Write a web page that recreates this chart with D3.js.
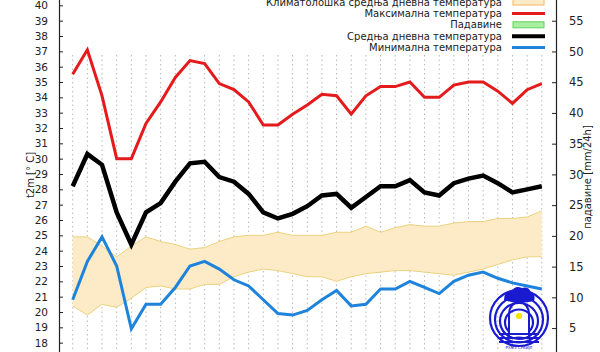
<!DOCTYPE html>
<html>
<head>
<meta charset="utf-8">
<script src="https://cdn.jsdelivr.net/npm/d3@7"></script>
<style>
  body { margin: 0; background: #fff; }
  svg { display: block; font-family: "DejaVu Sans", sans-serif; }
</style>
</head>
<body>
<div id="chart"></div>
<script>
//////////////////////////////////////////////////////////////////////////////
// Data (33 days)

var days = d3.range(1, 34);

var tMax = [35.5, 37.1, 34.1, 30.0, 30.0, 32.3, 33.7, 35.3, 36.4, 36.2, 34.9,
            34.5, 33.7, 32.2, 32.2, 32.9, 33.5, 34.2, 34.1, 32.9, 34.1, 34.7,
            34.7, 35.0, 34.0, 34.0, 34.8, 35.0, 35.0, 34.4, 33.6, 34.5, 34.9];

var tMean = [28.2, 30.3, 29.6, 26.5, 24.4, 26.5, 27.1, 28.5, 29.7, 29.8, 28.8,
             28.5, 27.7, 26.5, 26.1, 26.4, 26.9, 27.6, 27.7, 26.8, 27.5, 28.2,
             28.2, 28.6, 27.8, 27.6, 28.4, 28.7, 28.9, 28.4, 27.8, 28.0, 28.2];

var tMin = [20.8, 23.3, 24.9, 23.0, 18.9, 20.5, 20.5, 21.6, 23.0, 23.3, 22.8,
            22.1, 21.7, 20.8, 19.9, 19.8, 20.1, 20.8, 21.4, 20.4, 20.5, 21.5,
            21.5, 22.0, 21.6, 21.2, 22.0, 22.4, 22.6, 22.2, 21.9, 21.7, 21.5];

// climatological mean daily temperature band
var climHigh = [24.9, 24.9, 24.3, 23.6, 24.3, 24.9, 24.6, 24.4, 24.1, 24.2, 24.6,
                24.9, 25.0, 25.0, 25.2, 25.0, 25.0, 25.0, 25.2, 25.2, 25.6, 25.2,
                25.5, 25.7, 25.6, 25.6, 25.8, 25.9, 25.9, 26.1, 26.1, 26.2, 26.6];
var climLow = [20.4, 19.8, 20.5, 20.3, 20.9, 21.6, 21.7, 21.5, 21.5, 21.8, 21.8,
               22.3, 22.6, 22.8, 22.7, 22.5, 22.3, 22.3, 22.0, 22.3, 22.5, 22.6,
               22.7, 22.7, 22.6, 22.5, 22.4, 22.6, 22.8, 23.1, 23.4, 23.6, 23.6];

var tempTicks = d3.range(18, 41);
var precTicks = [5, 10, 15, 20, 25, 30, 35, 40, 45, 50, 55];

var legendLabels = ["Климатолошка средња дневна температура", "Максимална температура",
                    "Падавине", "Средња дневна температура", "Минимална температура"];

//////////////////////////////////////////////////////////////////////////////
// Scales

var width = 600, height = 352;

var xScale = d3.scaleLinear().domain([1, 33]).range([72.7, 541.8]);
var yTemp = d3.scaleLinear().domain([17, 41]).range([358, -10]);
var yPrec = d3.scaleLinear().domain([0, 60]).range([358.8, -10]);

var svg = d3.select("#chart").append("svg")
    .attr("width", width)
    .attr("height", height);

// dotted vertical grid
svg.append("g")
    .selectAll("line")
    .data(days)
    .enter()
    .append("line")
    .attr("x1", d => xScale(d))
    .attr("x2", d => xScale(d))
    .attr("y1", 55)
    .attr("y2", height)
    .attr("stroke", "#b8b8b8")
    .attr("stroke-width", 1)
    .attr("stroke-dasharray", "1.5,3");

// climatology band
var area = d3.area()
    .x((d, i) => xScale(days[i]))
    .y0((d, i) => yTemp(climLow[i]))
    .y1((d, i) => yTemp(climHigh[i]));

svg.append("path")
    .datum(days)
    .attr("d", area)
    .attr("fill", "#fdebc8");

var edge = arr => d3.line().x((d, i) => xScale(days[i])).y(d => yTemp(d))(arr);

svg.append("path").attr("d", edge(climHigh)).attr("fill", "none")
    .attr("stroke", "#ecd27e").attr("stroke-width", 1);
svg.append("path").attr("d", edge(climLow)).attr("fill", "none")
    .attr("stroke", "#ecd27e").attr("stroke-width", 1);

// temperature lines
function drawLine(values, color, w) {
    svg.append("path")
        .attr("d", edge(values))
        .attr("fill", "none")
        .attr("stroke", color)
        .attr("stroke-width", w)
        .attr("stroke-linejoin", "miter");
}
drawLine(tMax, "#e41a1c", 3);
drawLine(tMean, "#000000", 4.5);
drawLine(tMin, "#1e83db", 3);

//////////////////////////////////////////////////////////////////////////////
// Axes

var leftAxis = svg.append("g")
    .attr("transform", "translate(59,0)")
    .call(d3.axisLeft(yTemp).tickValues(tempTicks).tickSizeInner(-4).tickSizeOuter(0).tickPadding(11));

var rightAxis = svg.append("g")
    .attr("transform", "translate(556,0)")
    .call(d3.axisRight(yPrec).tickValues(precTicks).tickSizeInner(-4).tickSizeOuter(0).tickPadding(13));

[leftAxis, rightAxis].forEach(function(ax) {
    ax.select(".domain").attr("stroke", "#222").attr("stroke-width", 1.2);
    ax.selectAll(".tick line").attr("stroke", "#222");
    ax.selectAll("text").attr("fill", "#222").attr("font-family", "DejaVu Sans");
});
leftAxis.selectAll("text").attr("font-size", 10.5);
rightAxis.selectAll("text").attr("font-size", 11.5);

svg.append("text")
    .attr("transform", "translate(34,175) rotate(-90)")
    .attr("text-anchor", "middle")
    .attr("font-size", 10)
    .attr("fill", "#222")
    .text("t2m [° C]");

svg.append("text")
    .attr("transform", "translate(591,177) rotate(-90)")
    .attr("text-anchor", "middle")
    .attr("font-size", 10)
    .attr("fill", "#222")
    .text("падавине [mm/24h]");

//////////////////////////////////////////////////////////////////////////////
// Legend

var legendStyles = [
    {type: "box", fill: "#fdebc8", stroke: "#f0b860"},
    {type: "line", stroke: "#e41a1c", w: 3},
    {type: "box", fill: "#a8f0a0", stroke: "#60d060"},
    {type: "line", stroke: "#000", w: 4},
    {type: "line", stroke: "#1e83db", w: 3}
];

var legend = svg.append("g")
    .selectAll("g")
    .data(legendLabels)
    .enter()
    .append("g")
    .attr("transform", (d, i) => "translate(0," + (2 + i * 11.4) + ")");

legend.append("text")
    .attr("x", 502)
    .attr("text-anchor", "end")
    .attr("dominant-baseline", "central")
    .attr("font-size", 10)
    .attr("fill", "#222")
    .text(d => d);

legend.each(function(d, i) {
    var s = legendStyles[i];
    var g = d3.select(this);
    if (s.type === "box") {
        g.append("rect").attr("x", 513).attr("y", -3).attr("width", 31).attr("height", 6)
            .attr("fill", s.fill).attr("stroke", s.stroke).attr("stroke-width", 1);
    } else {
        g.append("line").attr("x1", 512).attr("x2", 545).attr("y1", 0).attr("y2", 0)
            .attr("stroke", s.stroke).attr("stroke-width", s.w);
    }
});

//////////////////////////////////////////////////////////////////////////////
// Logo (bottom right)

var logo = svg.append("g").attr("transform", "translate(519,318)");
[29, 24, 19, 14].forEach(function(r, i) {
    logo.append("ellipse")
        .attr("cx", 0).attr("cy", i * 1.5)
        .attr("rx", r).attr("ry", r - 1)
        .attr("fill", "none").attr("stroke", "#1a1ad0").attr("stroke-width", 2.2);
});
logo.append("rect").attr("x", -10).attr("y", -4).attr("width", 20).attr("height", 22).attr("fill", "#fff");
logo.append("path")
    .attr("d", "M-10,-4 A10,12 0 0 1 10,-4 L10,18 M-10,-4 L-10,18")
    .attr("fill", "none").attr("stroke", "#1a1ad0").attr("stroke-width", 2);
[8, 12, 16].forEach(function(yy) {
    logo.append("line").attr("x1", -20).attr("x2", 20).attr("y1", yy + 8).attr("y2", yy + 8)
        .attr("stroke", "#1a1ad0").attr("stroke-width", 1.8);
});
logo.append("path")
    .attr("d", "M-15,-18 Q-15,-28 -7,-27 Q-4,-33 3,-30 Q10,-32 12,-25 Q17,-24 15,-17 Q0,-13 -15,-18 Z")
    .attr("fill", "#1a1ad0");
logo.append("circle").attr("cx", 0).attr("cy", -2).attr("r", 3).attr("fill", "#f5e000");
logo.append("text").attr("x", 0).attr("y", 31).attr("text-anchor", "middle")
    .attr("font-size", 4).attr("fill", "#1a1ad0").text("РХМЗ СРБИЈЕ");
</script>
</body>
</html>
